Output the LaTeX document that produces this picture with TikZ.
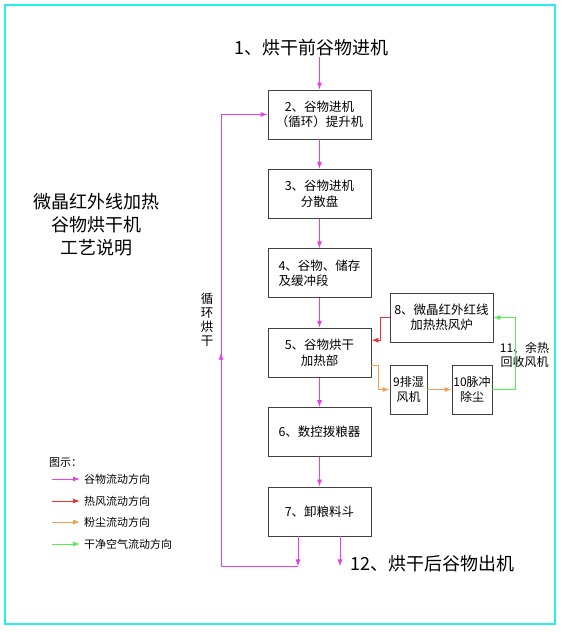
\documentclass[tikz,border=0pt]{standalone}
\usepackage{fontspec}
\setmainfont{Noto Sans CJK SC}
\usetikzlibrary{positioning, arrows.meta}

\definecolor{grainc}{RGB}{232,64,232}
\definecolor{hotc}{RGB}{240,50,50}
\definecolor{dustc}{RGB}{240,160,80}
\definecolor{airc}{RGB}{80,240,80}
\definecolor{framec}{RGB}{40,240,240}

\begin{document}
\begin{tikzpicture}[
x=1pt, y=1pt,
node distance=29.5pt and 19pt,
box/.style={rectangle, draw=black!75, line width=0.9pt, minimum width=103pt, minimum height=49pt, align=center, inner sep=2pt, font=\fontsize{12.5}{15.5}\selectfont},
sidebox/.style={box, minimum width=37pt, inner sep=1pt, font=\fontsize{12}{15.5}\selectfont},
big/.style={font=\fontsize{18}{23}\selectfont, align=center, inner sep=0pt},
small/.style={font=\fontsize{12}{14}\selectfont, align=center, inner sep=0pt},
legend/.style={font=\fontsize{11}{13}\selectfont, anchor=west, inner sep=0pt},
arrow/.style={-{Latex[length=7pt, width=5pt]}, line width=0.9pt},
grain/.style={arrow, draw=grainc},
hot/.style={arrow, draw=hotc},
dust/.style={arrow, draw=dustc},
air/.style={arrow, draw=airc}
]
\useasboundingbox (0,0) rectangle (561,-632);

% Rahmen
\draw[framec, line width=2.5pt] (5,-5) rectangle (555,-624);

% Hauptlinie
\node[box] (lift) at (319.5,-114.5) {2、谷物进机\\（循环）提升机};
\node[box, below=of lift] (spread) {3、谷物进机\\分散盘};
\node[box, below=of spread, align=left] (buffer) {4、谷物、储存\\及缓冲段};
\node[box, below=of buffer] (heat) {5、谷物烘干\\加热部};
\node[box, below=of heat] (meter) {6、数控拨粮器};
\node[box, below=of meter] (unload) {7、卸粮料斗};

% Nebenaggregate
\node[box] (furnace) at (441.5,-317.5) {8、微晶红外红线\\加热热风炉};
\node[sidebox] (fan) at (408.5,-389.5) {9排湿\\风机};
\node[sidebox, minimum width=40pt] (filter) at (472,-389.5) {10脉冲\\除尘};
\node[small] (recover) at (524.5,-355) {11、余热\\回收风机};

% Texte
\node[big] (intake) at (311.5,-48) {1、烘干前谷物进机};
\node[big, anchor=west] (outlet) at (350,-564) {12、烘干后谷物出机};
\node[big] (caption) at (96,-225) {微晶红外线加热\\谷物烘干机\\工艺说明};
\node[small, font=\fontsize{12.5}{14}\selectfont] (loopnote) at (207,-320) {循\\环\\烘\\干};

% Legende
\node[legend] (legtitle) at (49,-463) {图示：};
\node[legend] (leg1) at (84,-479) {谷物流动方向};
\node[legend] (leg2) at (84,-501) {热风流动方向};
\node[legend] (leg3) at (84,-522) {粉尘流动方向};
\node[legend] (leg4) at (84,-544) {干净空气流动方向};
\draw[grain] ([xshift=-32pt]leg1.west) -- ([xshift=-4pt]leg1.west);
\draw[hot] ([xshift=-32pt]leg2.west) -- ([xshift=-4pt]leg2.west);
\draw[dust] ([xshift=-32pt]leg3.west) -- ([xshift=-4pt]leg3.west);
\draw[air] ([xshift=-32pt]leg4.west) -- ([xshift=-4pt]leg4.west);

% Pfeile Getreide
\draw[grain] (intake.south -| lift.north) -- (lift);
\draw[grain] (lift) -- (spread);
\draw[grain] (spread) -- (buffer);
\draw[grain] (buffer) -- (heat);
\draw[grain] (heat) -- (meter);
\draw[grain] (meter) -- (unload);

% Umlauf
\coordinate (loopend) at ([xshift=-21.5pt, yshift=-30pt]unload.south);
\coordinate (loopcorner) at ([xshift=-77pt]loopend);
\coordinate (loopmid) at (loopcorner |- heat);
\draw[grain] ([xshift=-21.5pt]unload.south) -- (loopend);
\draw[grain] (loopend) -- (loopcorner) |- (lift.west);
\draw[grain] (loopcorner) -- (loopmid);

% Auslauf
\coordinate (outend) at ([xshift=20.5pt, yshift=-30pt]unload.south);
\draw[grain] ([xshift=20.5pt]unload.south) -- (outend);

% Luft und Staub
\draw[hot] (furnace.west) -- ++(-9pt,0) |- ([yshift=12.5pt]heat.east);
\draw[dust] ([yshift=-12.5pt]heat.east) -- ++(7pt,0) |- (fan.west);
\draw[dust] (fan) -- (filter);
\draw[air] (filter.east) -- ++(23pt,0) |- (furnace.east);

\end{tikzpicture}
\end{document}
